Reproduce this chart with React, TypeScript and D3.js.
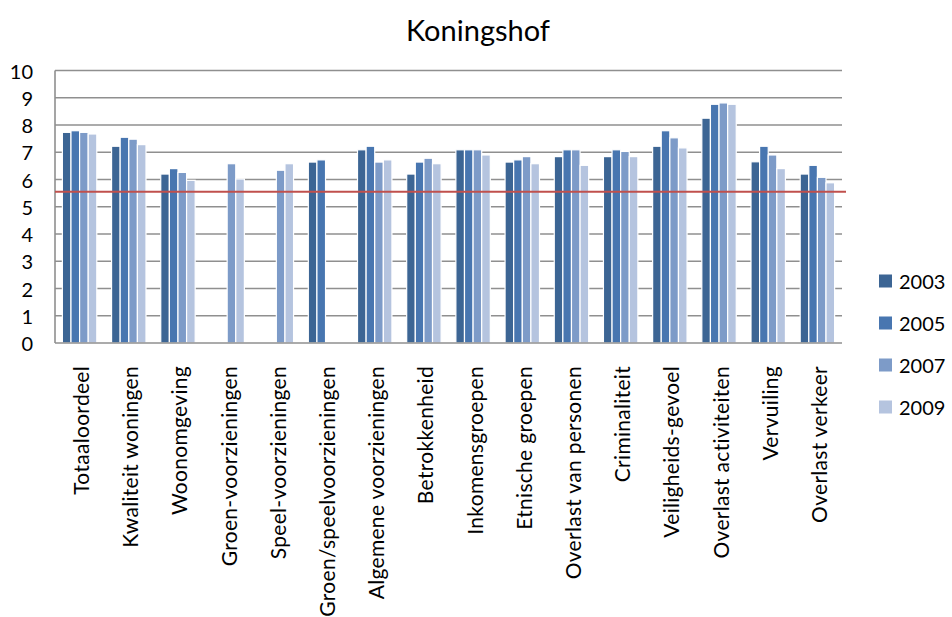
import React from "react";
import * as d3 from "d3";

const categories = [
  "Totaaloordeel",
  "Kwaliteit woningen",
  "Woonomgeving",
  "Groen-voorzieningen",
  "Speel-voorzieningen",
  "Groen/speelvoorzieningen",
  "Algemene voorzieningen",
  "Betrokkenheid",
  "Inkomensgroepen",
  "Etnische groepen",
  "Overlast van personen",
  "Criminaliteit",
  "Veiligheids-gevoel",
  "Overlast activiteiten",
  "Vervuiling",
  "Overlast verkeer",
];

const seriesNames = ["2003", "2005", "2007", "2009"];

const v2003: (number | null)[] = [7.73, 7.22, 6.2, null, null, 6.64, 7.09, 6.2, 7.09, 6.64, 6.84, 6.84, 7.22, 8.25, 6.65, 6.2];
const v2005: (number | null)[] = [7.79, 7.55, 6.4, null, null, 6.72, 7.22, 6.64, 7.09, 6.72, 7.09, 7.09, 7.79, 8.76, 7.22, 6.52];
const v2007: (number | null)[] = [7.73, 7.48, 6.26, 6.58, 6.34, null, 6.64, 6.78, 7.09, 6.84, 7.09, 7.03, 7.53, 8.81, 6.9, 6.08];
const v2009: (number | null)[] = [7.67, 7.28, 5.97, 6.02, 6.58, null, 6.72, 6.58, 6.9, 6.58, 6.52, 6.84, 7.16, 8.76, 6.4, 5.88];

const seriesValues = [v2003, v2005, v2007, v2009];
const colors = ["#3C6594", "#4876B0", "#7D9BC8", "#B5C4DF"];

const yTicks = [0, 1, 2, 3, 4, 5, 6, 7, 8, 9, 10];
const threshold = 5.55;
const title = "Koningshof";

const W = 952;
const H = 617;
const left = 55;
const right = 842;
const top = 70.5;
const bottom = 343;
const font = "Lato, 'Open Sans', sans-serif";

export default function App() {
  const x0 = d3
    .scaleBand<string>()
    .domain(categories)
    .range([left, right])
    .paddingInner(0.3)
    .paddingOuter(0.15);
  const x1 = d3
    .scaleBand<string>()
    .domain(seriesNames)
    .range([0, x0.bandwidth()]);
  const y = d3.scaleLinear().domain([0, 10]).range([bottom, top]);

  return (
    <svg width={W} height={H} style={{ position: "absolute", left: 0, top: 0, background: "#fff" }}>
      <text x={478} y={41} textAnchor="middle" fontFamily={font} fontSize={29} fill="#000">
        {title}
      </text>
      {yTicks.map((t) =>
        t > 0 ? (
          <line key={"g" + t} x1={left} x2={right} y1={y(t)} y2={y(t)} stroke="#8f8f8f" strokeWidth={1.6} />
        ) : null
      )}
      {yTicks.map((t) => (
        <text
          key={"t" + t}
          x={33}
          y={y(t)}
          textAnchor="end"
          dominantBaseline="central"
          fontFamily={font}
          fontSize={20}
          fill="#000"
        >
          {t}
        </text>
      ))}
      {categories.map((c, i) => (
        <g key={c}>
          {seriesNames.map((s, j) => {
            const v = seriesValues[j][i];
            if (v == null) return null;
            return (
              <rect
                key={s}
                x={(x0(c) as number) + (x1(s) as number)}
                y={y(v)}
                width={x1.bandwidth()}
                height={bottom - y(v)}
                fill={colors[j]}
                stroke="#ffffff"
                strokeWidth={1.2}
              />
            );
          })}
        </g>
      ))}
      <line x1={left} x2={left} y1={top} y2={bottom} stroke="#8f8f8f" strokeWidth={1.6} />
      <line x1={left} x2={right} y1={bottom} y2={bottom} stroke="#8f8f8f" strokeWidth={1.6} />
      <line x1={left} x2={846} y1={y(threshold)} y2={y(threshold)} stroke="#C0504D" strokeWidth={2} />
      {categories.map((c) => {
        const cx = (x0(c) as number) + x0.bandwidth() / 2;
        return (
          <text
            key={"l" + c}
            transform={`translate(${cx + 1},${366}) rotate(-90)`}
            textAnchor="end"
            dominantBaseline="central"
            fontFamily={font}
            fontSize={21}
            letterSpacing={0.3}
            fill="#000"
          >
            {c}
          </text>
        );
      })}
      {seriesNames.map((s, j) => (
        <g key={"lg" + s} transform={`translate(879,${281 + j * 42})`}>
          <rect x={0} y={-6.5} width={13} height={13} fill={colors[j]} />
          <text x={20} y={0} dominantBaseline="central" fontFamily={font} fontSize={20} fill="#000">
            {s}
          </text>
        </g>
      ))}
    </svg>
  );
}
